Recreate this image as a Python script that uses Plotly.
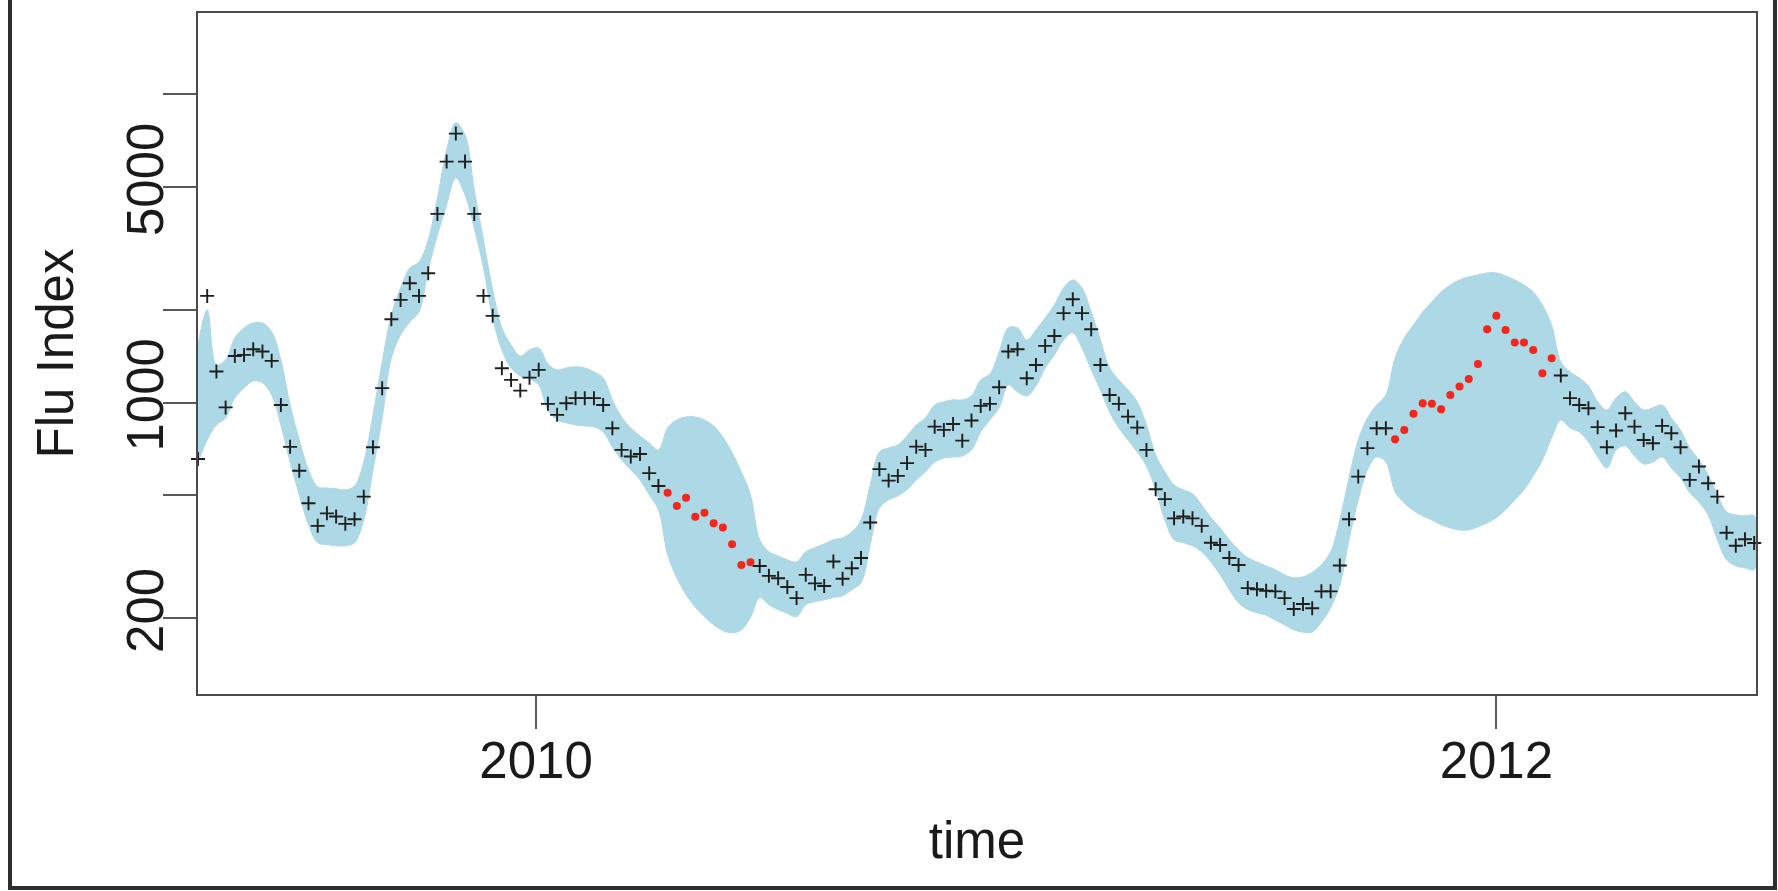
import plotly.graph_objects as go
import pandas as pd

# ---------------- data ----------------
start_date = "2009-04-19"          # first weekly observation
week_step = "7D"

flu_index = [
    656, 2217, 1260, 964, 1416, 1427, 1489, 1463, 1365, 982,
    718, 601, 471, 398, 437, 427, 404, 418, 495, 716,
    1113, 1862, 2152, 2438, 2217, 2627, 4090, 6045, 7450, 6045,
    4090, 2217, 1910, 1292, 1184, 1093, 1204, 1276, 990, 912,
    995, 1033, 1033, 1033, 982, 825, 702, 668, 681, 590,
    536, 510, 462, 491, 426, 439, 406, 393, 347, 297,
    303, 295, 274, 269, 252, 232, 276, 259, 254, 305,
    268, 290, 313, 408, 608, 558, 578, 636, 719, 702,
    835, 815, 852, 752, 874, 975, 990, 1121, 1463, 1489,
    1199, 1324, 1526, 1644, 1949, 2163, 1949, 1729, 1324, 1058,
    990, 900, 829, 702, 523, 486, 421, 427, 421, 398,
    351, 345, 313, 297, 250, 248, 245, 244, 232, 214,
    222, 215, 244, 244, 296, 418, 575, 711, 825, 825,
    760, 815, 919, 995, 990, 951, 1058, 1126, 1193, 1334,
    1729, 1910, 1720, 1564, 1564, 1481, 1245, 1392, 1223, 1033,
    982, 958, 832, 716, 811, 923, 835, 756, 738, 840,
    795, 716, 561, 620, 547, 495, 378, 343, 360, 350,
]

band_upper = [
    1537, 1997, 1324, 1375, 1620, 1746, 1812, 1812, 1694, 1375,
    982, 756, 605, 532, 528, 525, 521, 536, 641, 911,
    1354, 1923, 2353, 2733, 2857, 3368, 4608, 6597, 8073, 7378,
    4892, 3368, 2319, 1746, 1537, 1416, 1481, 1503, 1334, 1276,
    1295, 1305, 1295, 1257, 1202, 1020, 898, 827, 779, 739,
    702, 827, 878, 898, 898, 878, 839, 773, 687, 596,
    502, 359, 328, 318, 309, 304, 328, 338, 348, 359,
    364, 380, 416, 540, 691, 712, 728, 779, 846, 891,
    982, 1005, 1020, 1020, 1051, 1184, 1238, 1459, 1746, 1746,
    1596, 1720, 1881, 2072, 2353, 2498, 2353, 1967, 1596, 1295,
    1184, 1099, 1005, 846, 676, 596, 540, 521, 506, 465,
    423, 392, 359, 333, 314, 304, 295, 287, 276, 270,
    272, 281, 298, 328, 416, 570, 756, 891, 982, 1058,
    1395, 1620, 1784, 1967, 2120, 2284, 2406, 2498, 2555, 2592,
    2633, 2633, 2574, 2498, 2406, 2284, 2072, 1784, 1354, 1257,
    1202, 1132, 1005, 946, 1035, 1083, 1005, 946, 961, 982,
    891, 815, 712, 651, 583, 502, 442, 432, 429, 429,
]

band_lower = [
    641, 756, 846, 891, 1035, 1115, 1175, 1158, 1058, 846,
    641, 502, 401, 351, 346, 343, 343, 351, 416, 605,
    891, 1395, 1656, 1825, 1967, 2692, 3495, 4372, 5351, 4711,
    3683, 2733, 1881, 1481, 1295, 1220, 1193, 1140, 946, 878,
    859, 846, 839, 833, 803, 717, 651, 605, 561, 502,
    449, 321, 270, 238, 217, 202, 190, 182, 179, 183,
    201, 233, 221, 213, 207, 202, 221, 226, 229, 233,
    236, 247, 260, 346, 455, 483, 498, 521, 561, 596,
    641, 661, 666, 671, 702, 803, 878, 961, 1140, 1083,
    1051, 1132, 1295, 1426, 1596, 1682, 1503, 1276, 1099, 932,
    827, 756, 691, 622, 521, 416, 359, 351, 343, 328,
    304, 276, 247, 224, 213, 208, 204, 197, 190, 183,
    180, 180, 194, 216, 256, 359, 483, 605, 666, 641,
    513, 472, 446, 429, 416, 401, 392, 386, 386, 395,
    407, 423, 449, 483, 521, 578, 651, 768, 878, 827,
    803, 745, 666, 613, 702, 723, 671, 632, 641, 666,
    613, 570, 510, 476, 432, 359, 309, 295, 291, 287,
]

# weeks (0-based, inclusive) that were held out and drawn in red
holdout_windows = [(51, 60), (130, 147)]

x_ticks = ["2010-01-01", "2012-01-01"]
x_tick_text = ["2010", "2012"]
y_ticks = [200, 500, 1000, 2000, 5000, 10000]
y_tick_text = ["200", "", "1000", "", "5000", ""]

# ---------------- figure ----------------
dates = pd.date_range(start_date, periods=len(flu_index), freq=week_step)

def held(i):
    return any(a <= i <= b for a, b in holdout_windows)

black_y = [None if held(i) else v for i, v in enumerate(flu_index)]
red_y = [v if held(i) else None for i, v in enumerate(flu_index)]

FONT = "Liberation Sans, Arial, Helvetica, sans-serif"

fig = go.Figure()

fig.add_trace(go.Scatter(
    x=list(dates) + list(dates[::-1]),
    y=band_upper + band_lower[::-1],
    mode="lines",
    fill="toself",
    fillcolor="#ADD8E6",
    line=dict(color="#ADD8E6", width=1, shape="spline", smoothing=1.0),
    hoverinfo="skip",
    showlegend=False,
))

fig.add_trace(go.Scatter(
    x=dates, y=black_y, mode="markers",
    marker=dict(symbol="cross-thin", size=10, line=dict(color="#1e1e1e", width=1.9)),
    cliponaxis=False, showlegend=False,
))

fig.add_trace(go.Scatter(
    x=dates, y=red_y, mode="markers",
    marker=dict(symbol="circle", size=8, color="#f2261b"),
    cliponaxis=False, showlegend=False,
))

axis_common = dict(
    showgrid=False, zeroline=False,
    showline=True, linecolor="#4a4a4a", linewidth=2, mirror=True,
    ticks="outside", ticklen=33, tickwidth=2, tickcolor="#5a5a5a",
    tickfont=dict(family=FONT, size=51, color="#1a1a1a"),
)

fig.update_xaxes(
    type="date",
    range=["2009-04-19", "2012-07-16 09:00"],
    tickmode="array", tickvals=x_ticks, ticktext=x_tick_text,
    title=dict(text="time", font=dict(family=FONT, size=51, color="#1a1a1a"), standoff=34),
    ticklabelstandoff=-12,
    **axis_common,
)

fig.update_yaxes(
    type="log",
    range=[2.0545, 4.2634],
    tickmode="array", tickvals=y_ticks, ticktext=y_tick_text,
    tickangle=-90,
    title=dict(text="Flu Index", font=dict(family=FONT, size=51, color="#1a1a1a"), standoff=27),
    ticklabelstandoff=-20,
    **axis_common,
)

# outer window frame (left, bottom, right) in paper units
W0, PW, T0, PH = 198, 1558, 694, 681
def px(x):
    return (x - W0) / PW
def py(y):
    return (T0 - y) / PH

frame_path = "M {a},{t} L {a},{b} L {c},{b} L {c},{t}".format(
    a=px(10), c=px(1775), b=py(888), t=py(-10))
fig.add_shape(type="path", path=frame_path, xref="paper", yref="paper",
              line=dict(color="#2e2e2e", width=4), layer="above")

fig.update_layout(
    width=1778, height=891,
    margin=dict(l=198, r=22, t=13, b=197),
    paper_bgcolor="white", plot_bgcolor="white",
    font=dict(family=FONT, color="#1a1a1a"),
)

fig.write_html("out.html")
